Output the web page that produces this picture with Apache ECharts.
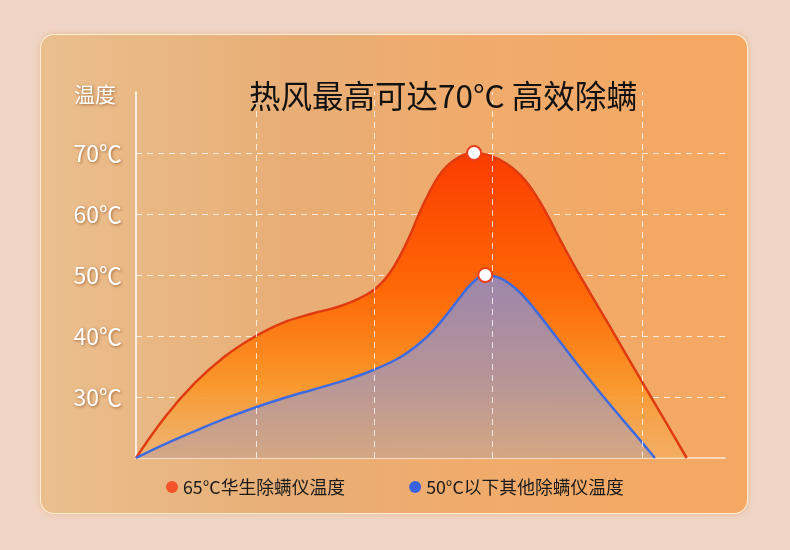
<!DOCTYPE html>
<html>
<head>
<meta charset="utf-8">
<script src="https://cdn.jsdelivr.net/npm/echarts@6/dist/echarts.min.js"></script>
<style>
  html, body { margin: 0; padding: 0; background: #f0d5c6; }
  #wrap { position: relative; width: 790px; height: 550px; overflow: hidden; }
  #card {
    position: absolute; left: 40px; top: 34px; width: 706px; height: 478px;
    border-radius: 14px;
    background: linear-gradient(90deg, #eabf8e 0%, #e8ae76 35%, #f0ab6c 60%, #f5a862 100%);
    border: 1.5px solid rgba(255, 240, 215, 0.95);
    box-shadow: 0 0 6px rgba(225, 165, 110, 0.55);
  }
  #chart { position: absolute; left: 0; top: 0; width: 790px; height: 550px; }
</style>
</head>
<body>
<div id="wrap">
  <div id="card"></div>
  <div id="chart"></div>
</div>
<script>
// x runs 0..100 across the plot, y is temperature in ℃
const hotName = '65°C华生除螨仪温度';
const otherName = '50°C以下其他除螨仪温度';

const hotCurve = [
  [0, 20], [5, 26.8], [10, 32.3], [15, 36.6], [20, 39.8], [25, 42.2], [30, 43.7],
  [35, 45.0], [40, 47.3], [43, 50.2], [46, 55.4], [49, 62.0], [52, 67.0],
  [55, 69.4], [57.4, 70], [60, 69.6], [63, 68.2], [66, 65.6], [69, 61.3],
  [72, 55.8], [75, 50.5], [80, 42.3], [85, 34.0], [90, 25.8], [93.5, 20]
];
const otherCurve = [
  [0, 20], [5, 22.3], [10, 24.4], [15, 26.4], [20, 28.2], [25, 29.8], [30, 31.2],
  [35, 32.6], [40, 34.3], [45, 36.6], [49, 39.5], [52, 42.6], [55, 46.3],
  [57, 48.6], [59.3, 50], [62, 49.4], [65, 47.3], [68, 44.0], [71, 40.3],
  [75, 35.3], [80, 29.3], [85, 23.6], [88.1, 20]
];
const peaks = [[57.4, 70], [59.3, 50]];

const yTicks = [30, 40, 50, 60, 70];
const xGridLines = [20.5, 40.4, 60.4, 86];

let chart = echarts.init(document.getElementById('chart'));
const cjk = '"Noto Sans CJK SC", "Noto Sans", sans-serif';
const dash = 'rgba(255,255,255,0.75)';
const whiteText = {
  fontFamily: cjk, color: '#fff',
  textShadowColor: 'rgba(120,55,15,0.6)', textShadowBlur: 3,
  textShadowOffsetX: 1, textShadowOffsetY: 1
};

let option = {
  textStyle: { fontFamily: cjk },
  title: [
    {
      text: '热风最高可达70°C 高效除螨',
      left: 244, top: 75,
      textStyle: { fontFamily: cjk, fontSize: 31.5, fontWeight: 'normal', color: '#111' }
    },
    {
      text: '温度',
      left: 69, top: 79,
      textStyle: Object.assign({ fontSize: 21, fontWeight: 'normal' }, whiteText)
    }
  ],
  legend: {
    data: [hotName, otherName],
    left: 161, top: 473,
    icon: 'circle', itemWidth: 12, itemHeight: 12, itemGap: 64,
    textStyle: { fontFamily: cjk, fontSize: 17.8, color: '#1a1a1a' }
  },
  grid: { left: 136, right: 65, top: 92, bottom: 92 },
  xAxis: {
    type: 'value', min: 0, max: 100,
    axisLine: { show: true, lineStyle: { color: 'rgba(255,255,255,0.75)', width: 1.5 } },
    axisTick: { show: false },
    axisLabel: { show: false },
    splitLine: { show: false }
  },
  yAxis: {
    type: 'value', min: 20, max: 80, interval: 10,
    axisLine: { show: true, lineStyle: { color: '#fff', width: 1.5 } },
    axisTick: { show: false },
    axisLabel: Object.assign({
      margin: 14, fontSize: 23,
      formatter: function (v) {
        return yTicks.indexOf(v) >= 0 ? v + '℃' : '';
      }
    }, whiteText),
    splitLine: {
      show: true,
      lineStyle: {
        type: [6, 5], width: 1,
        color: ['rgba(0,0,0,0)', dash, dash, dash, dash, dash, 'rgba(0,0,0,0)']
      }
    }
  },
  series: [
    {
      // carrier for the vertical dashed grid, kept under the areas
      type: 'line', name: 'grid', data: [], z: 1, silent: true,
      markLine: {
        silent: true, symbol: 'none', label: { show: false },
        lineStyle: { color: dash, type: [6, 5], width: 1 },
        data: xGridLines.map(x => ({ xAxis: x }))
      }
    },
    {
      name: hotName, type: 'line', data: hotCurve, smooth: 0.4,
      symbol: 'none', z: 3,
      itemStyle: { color: '#f5532a' },
      lineStyle: { color: '#e03a10', width: 2.5 },
      areaStyle: {
        opacity: 1,
        color: new echarts.graphic.LinearGradient(0, 0, 0, 1, [
          { offset: 0, color: '#fb3c00' },
          { offset: 0.45, color: '#fe6806' },
          { offset: 0.75, color: '#f9962a' },
          { offset: 1, color: 'rgba(243,176,96,0.55)' }
        ])
      }
    },
    {
      name: otherName, type: 'line', data: otherCurve, smooth: 0.4,
      symbol: 'none', z: 4,
      itemStyle: { color: '#3a62e0' },
      lineStyle: { color: '#3f6be0', width: 2.5 },
      areaStyle: {
        opacity: 1,
        color: new echarts.graphic.LinearGradient(0, 0, 0, 1, [
          { offset: 0, color: 'rgba(156,134,172,1)' },
          { offset: 0.6, color: 'rgba(180,150,155,0.95)' },
          { offset: 1, color: 'rgba(206,166,138,0.85)' }
        ])
      }
    },
    {
      name: 'peak', type: 'scatter', data: peaks, z: 6,
      symbol: 'circle', symbolSize: 14,
      itemStyle: { color: '#fff', opacity: 1, borderColor: '#e8401c', borderWidth: 2 }
    }
  ]
};

chart.setOption(option);
</script>
</body>
</html>
